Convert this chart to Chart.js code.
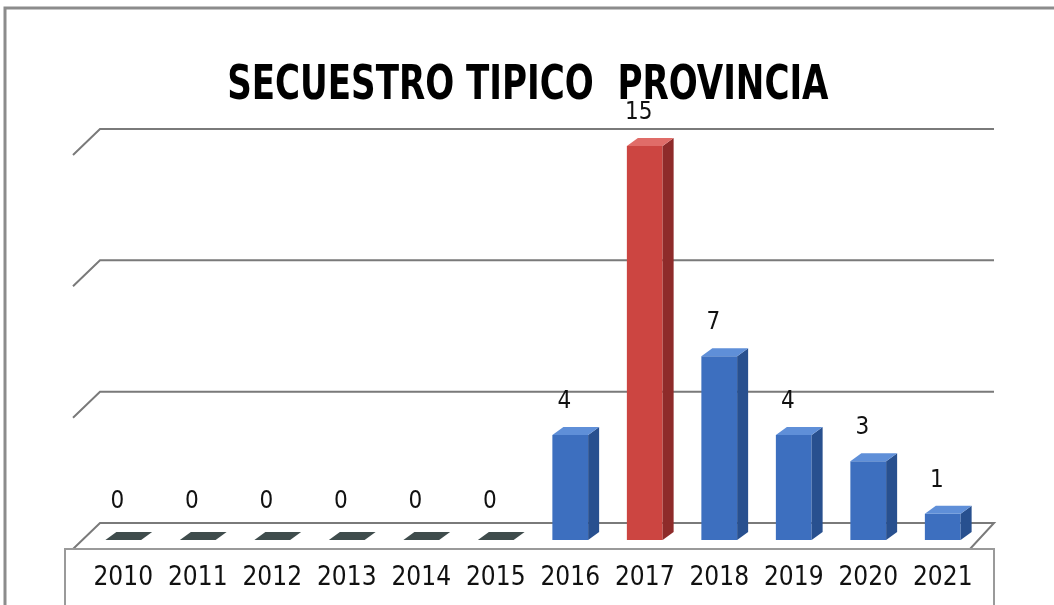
<!DOCTYPE html>
<html lang="es">
<head>
  <meta charset="UTF-8">
  <title>Secuestro típico provincia</title>
  <script src="https://cdn.jsdelivr.net/npm/chart.js"></script>
  <style>
    body { margin: 0; background: #fff; }
    #wrap { width: 1054px; height: 605px; position: relative; overflow: hidden; }
    #titulo {
      position: absolute; left: 0; top: 52px; width: 1054px; margin: 0;
      text-align: center; font: bold 48px "DejaVu Sans Condensed", "DejaVu Sans", sans-serif;
      color: #000; transform: scaleX(0.79); transform-origin: 531px 0; white-space: pre;
      line-height: 60px;
    }
  </style>
</head>
<body>
  <div id="wrap">
    <canvas id="grafico" width="1054" height="605"></canvas>
    <h1 id="titulo">SECUESTRO TIPICO  PROVINCIA</h1>
  </div>

  <script>
    const anios = ['2010','2011','2012','2013','2014','2015','2016','2017','2018','2019','2020','2021'];
    const casos = [0, 0, 0, 0, 0, 0, 4, 15, 7, 4, 3, 1];
    const lineasGuia = [5, 10, 15];

    const AZUL = '#3d6fbf', AZUL_LADO = '#28508f', AZUL_TOPE = '#5f8fd8';
    const ROJO = '#cc4541', ROJO_LADO = '#8e2b2a', ROJO_TOPE = '#e06c68';
    const DX = 11, DY = 8;          // profundidad de la barra
    const BX = 14, BY = -17;        // plano de atras
    const FX = -13, FY = 9;         // plano de adelante
    const FUENTE = '"DejaVu Sans Condensed", "DejaVu Sans", sans-serif';

    const colores = casos.map((v, i) => anios[i] === '2017' ? ROJO : AZUL);

    const efecto3d = {
      id: 'efecto3d',
      beforeDatasetsDraw(chart) {
        const { ctx, chartArea: a, scales: { y } } = chart;
        ctx.save();
        ctx.lineWidth = 2;
        ctx.strokeStyle = '#7a7a7a';
        // lineas de la grilla con esquina en diagonal
        for (const v of lineasGuia) {
          const py = y.getPixelForValue(v);
          ctx.beginPath();
          ctx.moveTo(a.right + BX, py + BY);
          ctx.lineTo(a.left + BX, py + BY);
          ctx.lineTo(a.left + FX, py + FY);
          ctx.stroke();
        }
        // piso
        const p0 = y.getPixelForValue(0);
        ctx.beginPath();
        ctx.moveTo(a.left + FX, p0 + FY);
        ctx.lineTo(a.left + BX, p0 + BY);
        ctx.lineTo(a.right + BX, p0 + BY);
        ctx.lineTo(a.right - 10, p0 + FY);
        ctx.closePath();
        ctx.stroke();
        // caja de etiquetas
        ctx.strokeStyle = '#9a9a9a';
        ctx.strokeRect(65, p0 + FY, a.right + BX - 65, 80);
        ctx.restore();
      },
      afterDatasetsDraw(chart) {
        const { ctx } = chart;
        const meta = chart.getDatasetMeta(0);
        ctx.save();
        meta.data.forEach((bar, i) => {
          const v = casos[i];
          const rojo = colores[i] === ROJO;
          const l = bar.x - bar.width / 2, r = bar.x + bar.width / 2;
          const t = bar.y, b = bar.base;
          if (v > 0) {
            ctx.fillStyle = rojo ? ROJO_LADO : AZUL_LADO;
            ctx.beginPath();
            ctx.moveTo(r, t); ctx.lineTo(r + DX, t - DY);
            ctx.lineTo(r + DX, b - DY); ctx.lineTo(r, b);
            ctx.closePath(); ctx.fill();
            ctx.fillStyle = rojo ? ROJO_TOPE : AZUL_TOPE;
          } else {
            ctx.fillStyle = '#3f4c4c';
          }
          ctx.beginPath();
          ctx.moveTo(l, t); ctx.lineTo(l + DX, t - DY);
          ctx.lineTo(r + DX, t - DY); ctx.lineTo(r, t);
          ctx.closePath(); ctx.fill();
          // etiqueta de valor
          ctx.fillStyle = '#111';
          ctx.font = '24px ' + FUENTE;
          ctx.textAlign = 'center';
          ctx.textBaseline = 'middle';
          ctx.fillText(String(v), bar.x - 6, t - (v > 0 ? 33 : 38));
        });
        ctx.restore();
      },
      afterDraw(chart) {
        const { ctx } = chart;
        ctx.save();
        ctx.strokeStyle = '#8c8c8c';
        ctx.lineWidth = 3;
        ctx.beginPath();
        ctx.moveTo(5, 605); ctx.lineTo(5, 8); ctx.lineTo(1054, 8);
        ctx.stroke();
        ctx.restore();
      }
    };

    new Chart(document.getElementById('grafico'), {
      type: 'bar',
      data: {
        labels: anios,
        datasets: [{
          data: casos,
          backgroundColor: colores,
          borderWidth: 0,
          barPercentage: 0.48,
          categoryPercentage: 1
        }]
      },
      options: {
        responsive: false,
        animation: false,
        layout: { padding: { left: 86, right: 74, top: 146, bottom: 0 } },
        plugins: {
          legend: { display: false },
          tooltip: { enabled: false },
          title: { display: false }
        },
        scales: {
          x: {
            grid: { display: false, drawTicks: false },
            border: { display: false },
            afterFit(scale) { scale.height = 65; },
            ticks: {
              color: '#111',
              padding: 23,
              maxRotation: 0,
              font: { family: FUENTE, size: 26 }
            }
          },
          y: { display: false, min: 0, max: 15 }
        }
      },
      plugins: [efecto3d]
    });
  </script>
</body>
</html>
